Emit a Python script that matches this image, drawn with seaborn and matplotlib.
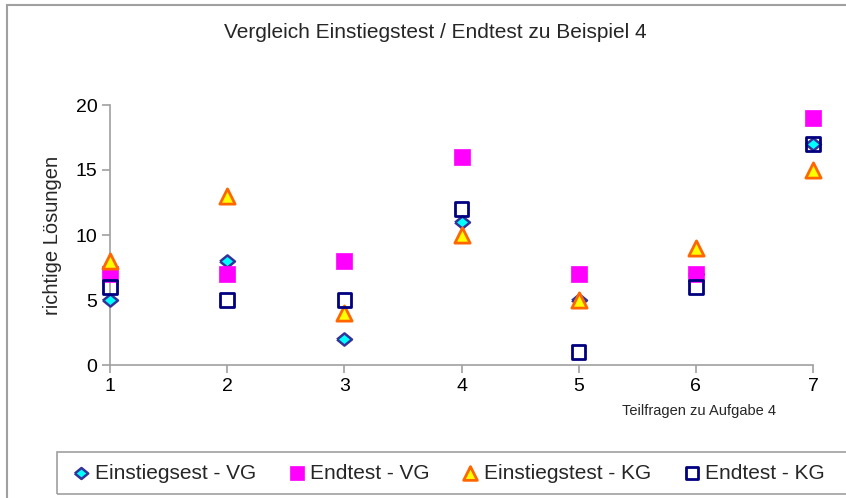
import matplotlib
matplotlib.use("Agg")
import matplotlib.pyplot as plt
import seaborn as sns
import pandas as pd
from matplotlib.patches import Rectangle

teilfragen = [1, 2, 3, 4, 5, 6, 7]
einstieg_vg = [5, 8, 2, 11, 5, 7, 17]
endtest_vg = [7, 7, 8, 16, 7, 7, 19]
einstieg_kg = [8, 13, 4, 10, 5, 9, 15]
endtest_kg = [6, 5, 5, 12, 1, 6, 17]
labels = ["Einstiegsest - VG", "Endtest - VG", "Einstiegstest - KG", "Endtest - KG"]

sns.set_theme(style="white")
plt.rcParams['font.family'] = ['Liberation Sans', 'DejaVu Sans']

fig = plt.figure(figsize=(8.46, 4.98), dpi=100)
ax = fig.add_axes([110/846, 1-365/498, (813-110)/846, (365-105)/498])

diamond = [(-1, 0), (0, 0.82), (1, 0), (0, -0.82), (-1, 0)]
styles = [
    dict(marker=diamond, s=115, color="#00FFFF", edgecolor="#333399", linewidth=1.8),
    dict(marker="s", s=125, color="#FF00FF", edgecolor="#FF00FF", linewidth=0.5),
    dict(marker="^", s=120, color="#FFFF00", edgecolor="#FF6600", linewidth=2.0),
    dict(marker="s", s=95, color="none", edgecolor="#000080", linewidth=2.0),
]
series = [einstieg_vg, endtest_vg, einstieg_kg, endtest_kg]
for vals, lab, st in zip(series, labels, styles):
    df = pd.DataFrame({"x": teilfragen, "y": vals})
    sns.scatterplot(data=df, x="x", y="y", ax=ax, label=lab, clip_on=False, zorder=3, **st)

ax.set_xlim(1, 7)
ax.set_ylim(0, 20)
ax.set_xticks(teilfragen)
ax.set_yticks([0, 5, 10, 15, 20])
for s in ["top", "right"]:
    ax.spines[s].set_visible(False)
for s in ["left", "bottom"]:
    ax.spines[s].set_color("#a0a0a0")
    ax.spines[s].set_linewidth(1.2)
ax.tick_params(axis="both", which="both", direction="out", length=6, width=1.2,
               color="#a0a0a0", labelsize=14, labelcolor="black", pad=3, left=True, bottom=True)
ax.set_xlabel("")
ax.set_ylabel("richtige Lösungen", fontsize=14.5, labelpad=10)
fig.text(435/846, 1-32/498, "Vergleich Einstiegstest / Endtest zu Beispiel 4",
         fontsize=15, ha="center", va="center")
fig.text(699/846, 1-411/498, "Teilfragen zu Aufgabe 4", fontsize=10.5, ha="center", va="center")

ax.get_legend().remove()
h, l = ax.get_legend_handles_labels()
leg = fig.legend(h, l, loc="center left", ncol=4,
                 bbox_to_anchor=(72/846, 1-473/498),
                 prop={"size": 15},
                 frameon=False, handletextpad=0.2, handlelength=0.9,
                 columnspacing=1.5, borderaxespad=0, borderpad=0, markerscale=0.9)

fig.patches.append(Rectangle((57/846, 1-494/498), 1.0, 42/498, transform=fig.transFigure,
                             fill=False, edgecolor="#a0a0a0", linewidth=1.2, figure=fig))
fig.patches.append(Rectangle((7/846, -0.1), 1.2, (1-5/498)+0.1, transform=fig.transFigure,
                             fill=False, edgecolor="#a0a0a0", linewidth=1.5, figure=fig))

fig.savefig("out.png", dpi=100)
